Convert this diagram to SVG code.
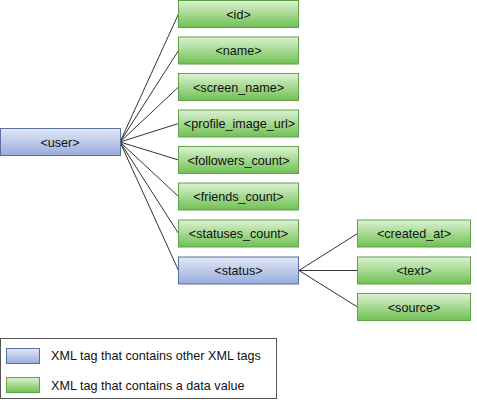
<svg xmlns="http://www.w3.org/2000/svg" width="477" height="400" viewBox="0 0 477 400">
<defs>
<linearGradient id="gG" x1="0" y1="0" x2="0" y2="1">
<stop offset="0" stop-color="#dcf2d2"/>
<stop offset="1" stop-color="#6fc052"/>
</linearGradient>
<linearGradient id="gB" x1="0" y1="0" x2="0" y2="1">
<stop offset="0" stop-color="#e2e8f6"/>
<stop offset="1" stop-color="#98acdc"/>
</linearGradient>
</defs>
<style>
.g{fill:url(#gG);stroke:#62a04c;stroke-width:1}
.b{fill:url(#gB);stroke:#5a6fa3;stroke-width:1}
text{font-family:"Liberation Sans",Arial,sans-serif;font-size:12.6px;fill:#111;text-anchor:middle}
.l{text-anchor:start}
.c line{stroke:#333;stroke-width:1}
</style>
<rect width="477" height="400" fill="#fff"/>
<g class="c" id="connectors">
<line x1="120" y1="142" x2="178.5" y2="14"/>
<line x1="120" y1="142" x2="178.5" y2="50.5"/>
<line x1="120" y1="142" x2="178.5" y2="87"/>
<line x1="120" y1="142" x2="178.5" y2="123.5"/>
<line x1="120" y1="142" x2="178.5" y2="160"/>
<line x1="120" y1="142" x2="178.5" y2="196.5"/>
<line x1="120" y1="142" x2="178.5" y2="233.5"/>
<line x1="120" y1="142" x2="178.5" y2="270.5"/>
<line x1="299" y1="270.5" x2="357.5" y2="233.5"/>
<line x1="299" y1="270.5" x2="357.5" y2="270.5"/>
<line x1="299" y1="270.5" x2="357.5" y2="307"/>
</g>
<g id="user"><rect class="b" x="0.5" y="128.5" width="120" height="27"/><text x="60" y="146.5">&lt;user&gt;</text></g>
<g id="id"><rect class="g" x="178.5" y="0.5" width="120" height="27"/><text x="238.5" y="18.5">&lt;id&gt;</text></g>
<g id="name"><rect class="g" x="178.5" y="37" width="120" height="27"/><text x="238.5" y="55">&lt;name&gt;</text></g>
<g id="screen_name"><rect class="g" x="178.5" y="73.5" width="120" height="27"/><text x="238.5" y="91.5">&lt;screen_name&gt;</text></g>
<g id="profile_image_url"><rect class="g" x="178.5" y="110" width="120" height="27"/><text x="239.5" y="128">&lt;profile_image_url&gt;</text></g>
<g id="followers_count"><rect class="g" x="178.5" y="146.5" width="120" height="27"/><text x="238.5" y="164.5">&lt;followers_count&gt;</text></g>
<g id="friends_count"><rect class="g" x="178.5" y="183" width="120" height="27"/><text x="238.5" y="201">&lt;friends_count&gt;</text></g>
<g id="statuses_count"><rect class="g" x="178.5" y="220" width="120" height="27"/><text x="238.5" y="238">&lt;statuses_count&gt;</text></g>
<g id="status"><rect class="b" x="178.5" y="257" width="120" height="27"/><text x="238.5" y="275">&lt;status&gt;</text></g>
<g id="created_at"><rect class="g" x="357.5" y="220" width="113" height="27"/><text x="414" y="238">&lt;created_at&gt;</text></g>
<g id="text"><rect class="g" x="357.5" y="257" width="113" height="27"/><text x="414" y="275">&lt;text&gt;</text></g>
<g id="source"><rect class="g" x="357.5" y="293.5" width="113" height="27"/><text x="414" y="311.5">&lt;source&gt;</text></g>
<g id="legend">
<rect x="0.5" y="338.5" width="276" height="60" fill="#fff" stroke="#555" stroke-width="1"/>
<rect class="b" x="6.5" y="348.5" width="33" height="15"/>
<text class="l" x="51" y="360">XML tag that contains other XML tags</text>
<rect class="g" x="6.5" y="377.5" width="33" height="15"/>
<text class="l" x="51" y="390">XML tag that contains a data value</text>
</g>
</svg>
